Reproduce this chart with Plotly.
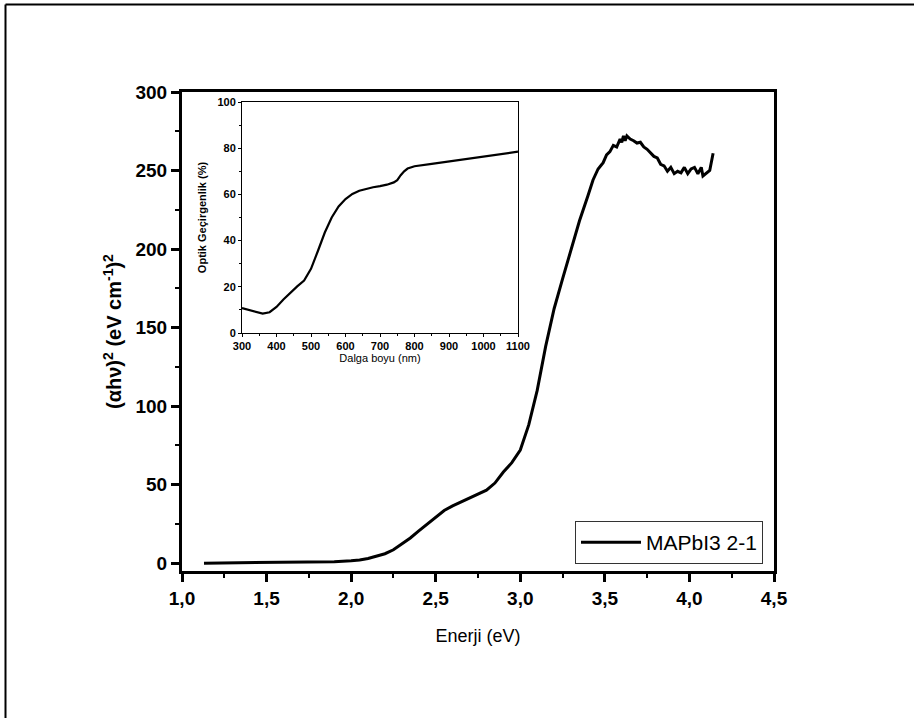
import plotly.graph_objects as go

# Main curve: energy (eV) vs (alpha h nu)^2
energy = [1.13, 1.3, 1.5, 1.7, 1.8, 1.9, 2.0, 2.05, 2.1, 2.15, 2.2, 2.25, 2.3, 2.35, 2.4, 2.45,
          2.5, 2.55, 2.6, 2.65, 2.7, 2.75, 2.8, 2.85, 2.9, 2.95, 3.0, 3.05, 3.1, 3.15, 3.2,
          3.25, 3.3, 3.35, 3.4, 3.43, 3.46, 3.49, 3.51, 3.53, 3.55, 3.57, 3.59, 3.6, 3.61,
          3.62, 3.63, 3.65, 3.67, 3.69, 3.71, 3.73, 3.75, 3.77, 3.79, 3.81, 3.83, 3.85,
          3.87, 3.89, 3.91, 3.93, 3.95, 3.97, 3.99, 4.01, 4.03, 4.05, 4.07, 4.08, 4.1,
          4.12, 4.14]
absorb = [0.0, 0.1, 0.2, 0.4, 0.6, 0.9, 1.5, 2.0, 3.0, 4.3, 6.0, 8.5, 12.0, 16.0, 20.5, 25.0,
          29.5, 33.5, 36.5, 39.0, 41.0, 43.5, 46.5, 51.0, 58.0, 64.0, 72.0, 88.0, 110.0, 138.0,
          162.0, 181.0, 200.0, 218.0, 234.0, 244.0, 251.0, 255.0, 260.0, 262.0, 266.0, 265.0,
          270.0, 268.0, 272.0, 269.0, 272.0, 270.0, 269.0, 267.5, 268.0, 265.0, 263.5, 261.0,
          259.0, 258.0, 254.0, 253.0, 249.5, 252.0, 248.0, 249.5, 248.5, 252.0, 248.0,
          251.0, 252.0, 248.0, 252.0, 246.5, 248.0, 250.0, 261.0]

# Inset: wavelength (nm) vs optical transmittance (%)
wavelength = [300, 320, 340, 360, 380, 400, 420, 440, 460, 480, 500, 520, 540, 560, 580,
              600, 620, 640, 660, 680, 700, 720, 740, 750, 760, 770, 780, 800, 850, 900,
              950, 1000, 1050, 1100]
transmit = [10.8, 10.0, 9.0, 8.4, 9.0, 11.3, 14.5, 17.5, 20.2, 22.7, 27.8, 35.5, 43.5, 50.0,
            54.8, 58.0, 60.2, 61.6, 62.5, 63.1, 63.6, 64.2, 65.2, 66.2, 68.3, 70.0, 71.2,
            72.2, 73.2, 74.3, 75.3, 76.4, 77.4, 78.5]

series_name = "MAPbI3 2-1"

fig = go.Figure()
fig.add_trace(go.Scatter(x=energy, y=absorb, mode="lines", name=series_name,
                         line=dict(color="black", width=3), xaxis="x", yaxis="y"))
fig.add_trace(go.Scatter(x=wavelength, y=transmit, mode="lines", showlegend=False,
                         line=dict(color="black", width=2.2), xaxis="x2", yaxis="y2"))

W, H = 914, 718
def px(x):
    return x / W
def py(y):
    return 1 - y / H

FAM = "Arial, Liberation Sans, sans-serif"
bold19 = dict(family=FAM, size=19, color="black", weight="bold")
bold11 = dict(family=FAM, size=11, color="black", weight="bold")

fig.update_layout(
    width=W, height=H, margin=dict(l=0, r=0, t=0, b=0, autoexpand=False),
    paper_bgcolor="white", plot_bgcolor="white",
    separators=",.",
    font=dict(family=FAM, color="black"),
    xaxis=dict(domain=[px(182), px(774)], range=[1.0, 4.5], dtick=0.5, tick0=1.0,
               tickformat=".1f", showgrid=False, zeroline=False, automargin=False,
               showline=True, linecolor="black", linewidth=3, mirror=True,
               ticks="outside", ticklen=8, tickwidth=3, tickcolor="black",
               minor=dict(dtick=0.25, ticks="outside", ticklen=4, tickwidth=2, tickcolor="black"),
               tickfont=bold19,
               title=dict(text="Enerji (eV)", font=dict(size=18, family=FAM),
                          standoff=22)),
    yaxis=dict(domain=[py(571), py(92)], range=[-5, 300], dtick=50, tick0=0,
               showgrid=False, zeroline=False, automargin=False,
               showline=True, linecolor="black", linewidth=3, mirror=True,
               ticks="outside", ticklen=8, tickwidth=3, tickcolor="black",
               minor=dict(dtick=25, ticks="outside", ticklen=4, tickwidth=2, tickcolor="black"),
               tickfont=bold19,
               title=dict(text="(αhν)<sup>2</sup> (eV cm<sup>-1</sup>)<sup>2</sup>",
                          font=dict(family=FAM, size=20, color="black", weight="bold"),
                          standoff=9)),
    xaxis2=dict(domain=[px(242), px(518)], range=[300, 1100], dtick=100, tick0=300,
                anchor="y2", showgrid=False, zeroline=False, automargin=False,
                showline=True, linecolor="black", linewidth=1, mirror=True,
                ticks="outside", ticklen=3, tickwidth=1, tickcolor="black",
                minor=dict(dtick=50, ticks="outside", ticklen=2, tickwidth=1, tickcolor="black"),
                tickfont=bold11,
                title=dict(text="Dalga boyu (nm)", font=dict(size=11, family=FAM),
                           standoff=3)),
    yaxis2=dict(domain=[py(333), py(102)], range=[0, 100], dtick=20, tick0=0,
                anchor="x2", showgrid=False, zeroline=False, automargin=False,
                showline=True, linecolor="black", linewidth=1, mirror=True,
                ticks="outside", ticklen=3, tickwidth=1, tickcolor="black",
                minor=dict(dtick=10, ticks="outside", ticklen=2, tickwidth=1, tickcolor="black"),
                tickfont=bold11,
                title=dict(text="Optik Geçirgenlik (%)", font=bold11, standoff=8)),
    legend=dict(x=px(763), y=py(564), xanchor="right", yanchor="bottom",
                bgcolor="white", bordercolor="#333333", borderwidth=1,
                font=dict(size=21, family=FAM, color="black"),
                itemwidth=60, tracegroupgap=0),
    shapes=[
        dict(type="line", xref="paper", yref="paper", x0=px(5.5), x1=px(5.5), y0=0, y1=py(4.5),
             line=dict(color="black", width=2)),
        dict(type="line", xref="paper", yref="paper", x0=px(5.5), x1=1, y0=py(4.5), y1=py(4.5),
             line=dict(color="black", width=2)),
    ],
)

fig.write_html("out.html")
